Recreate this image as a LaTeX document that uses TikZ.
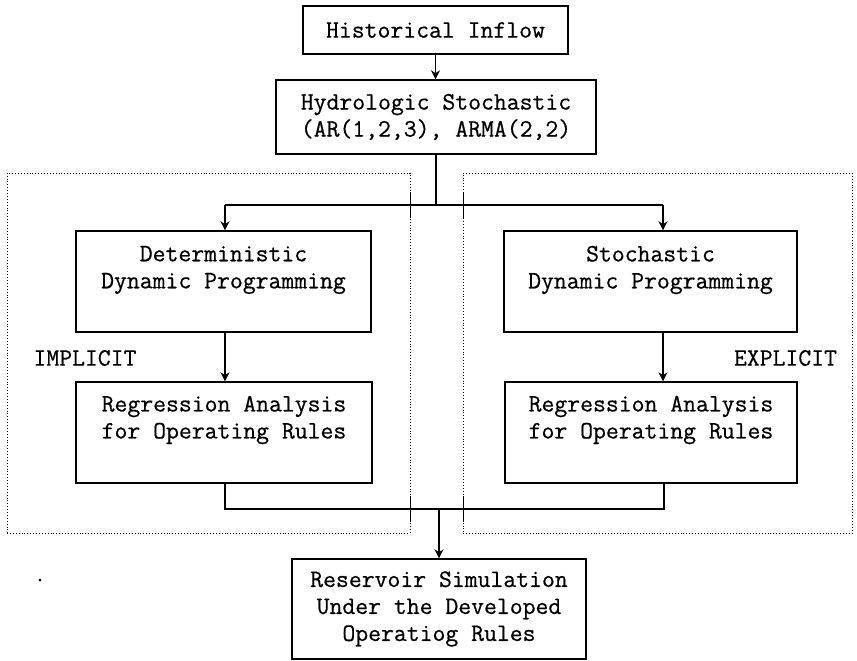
\documentclass[tikz,border=0pt]{standalone}
\usepackage{fontspec}
\setmonofont{Latin Modern Mono}[FakeBold=0.6]
\usepackage{tikz}
\usetikzlibrary{arrows.meta, positioning}
\tikzset{
  procbox/.style={rectangle, draw, line width=1.4pt, inner sep=0pt},
  boxtext/.style={font=\fontsize{25}{27}\selectfont\ttfamily, align=center, inner sep=0pt},
  sidetext/.style={font=\fontsize{25}{27}\selectfont\ttfamily, inner sep=0pt},
  zone/.style={rectangle, draw, dotted, line width=0.9pt, inner sep=0pt},
  arrow/.style={-{Stealth[length=9pt, width=9pt]}, line width=1.3pt},
  line/.style={line width=1.3pt}
}

\begin{document}
\begin{tikzpicture}[x=1pt, y=-1pt]
  \useasboundingbox (0,0) rectangle (857,661);

  % Implicit / explicit regions
  \node[zone, minimum width=403pt, minimum height=360pt] (impl) at (208.5,353) {};
  \node[zone, minimum width=389pt, minimum height=360pt] (expl) at (657.5,353) {};

  % Inflow and generation
  \node[procbox, boxtext, minimum width=265pt, minimum height=48pt] (hist) at (435.5,30) {Historical Inflow};
  \node[procbox, boxtext, minimum width=320pt, minimum height=74pt] (hydro) at (436,117) {Hydrologic Stochastic\\(AR(1,2,3), ARMA(2,2)};
  \draw[arrow] (hist.south) -- (hist.south |- hydro.north);

  % Optimization models
  \node[procbox, minimum width=295pt, minimum height=101pt] (ddp) at (223.5,281.5) {};
  \node[boxtext] (ddptext) at ([yshift=11.5pt]ddp.center) {Deterministic\\Dynamic Programming};
  \node[procbox, minimum width=293pt, minimum height=101pt] (sdp) at (650.5,281.5) {};
  \node[boxtext] (sdptext) at ([yshift=11.5pt]sdp.center) {Stochastic\\Dynamic Programming};

  % Regression
  \node[procbox, minimum width=296pt, minimum height=101pt] (regl) at (224,432.5) {};
  \node[boxtext] (regltext) at ([yshift=12.5pt]regl.center) {Regression Analysis\\for Operating Rules};
  \node[procbox, minimum width=292pt, minimum height=101pt] (regr) at (651,432.5) {};
  \node[boxtext] (regrtext) at ([yshift=12.5pt]regr.center) {Regression Analysis\\for Operating Rules};

  \node[sidetext] (implabel) at (85,358) {IMPLICIT};
  \node[sidetext] (explabel) at (785.5,358) {EXPLICIT};

  % Simulation
  \node[procbox, boxtext, minimum width=294pt, minimum height=100pt] (sim) at (439,609) {Reservoir Simulation\\Under the Developed\\Operatiog Rules};

  % Split
  \coordinate (splitl) at (225,205);
  \coordinate (splitr) at (663,205);
  \draw[line] (hydro.south) -- (hydro.south |- splitl);
  \draw[line] (splitl) -- (splitr);
  \draw[arrow] (splitl) -- (splitl |- ddp.north);
  \draw[arrow] (splitr) -- (splitr |- sdp.north);
  \draw[arrow] (ddp.south -| splitl) -- (splitl |- regl.north);
  \draw[arrow] (sdp.south -| splitr) -- (splitr |- regr.north);

  % Join
  \coordinate (joinl) at (225,509);
  \coordinate (joinr) at (664,509);
  \draw[line] (regl.south -| joinl) -- (joinl) -- (joinr) -- (regr.south -| joinr);
  \draw[arrow] (sim.north |- joinl) -- (sim.north);

  % crossings of the region borders
  \foreach \x in {410,463} {
    \draw[line width=1pt] (\x,192) -- (\x,218);
    \draw[line width=1pt] (\x,496) -- (\x,522);
  }
  \fill (40,580) circle (1.5pt);
\end{tikzpicture}
\end{document}
